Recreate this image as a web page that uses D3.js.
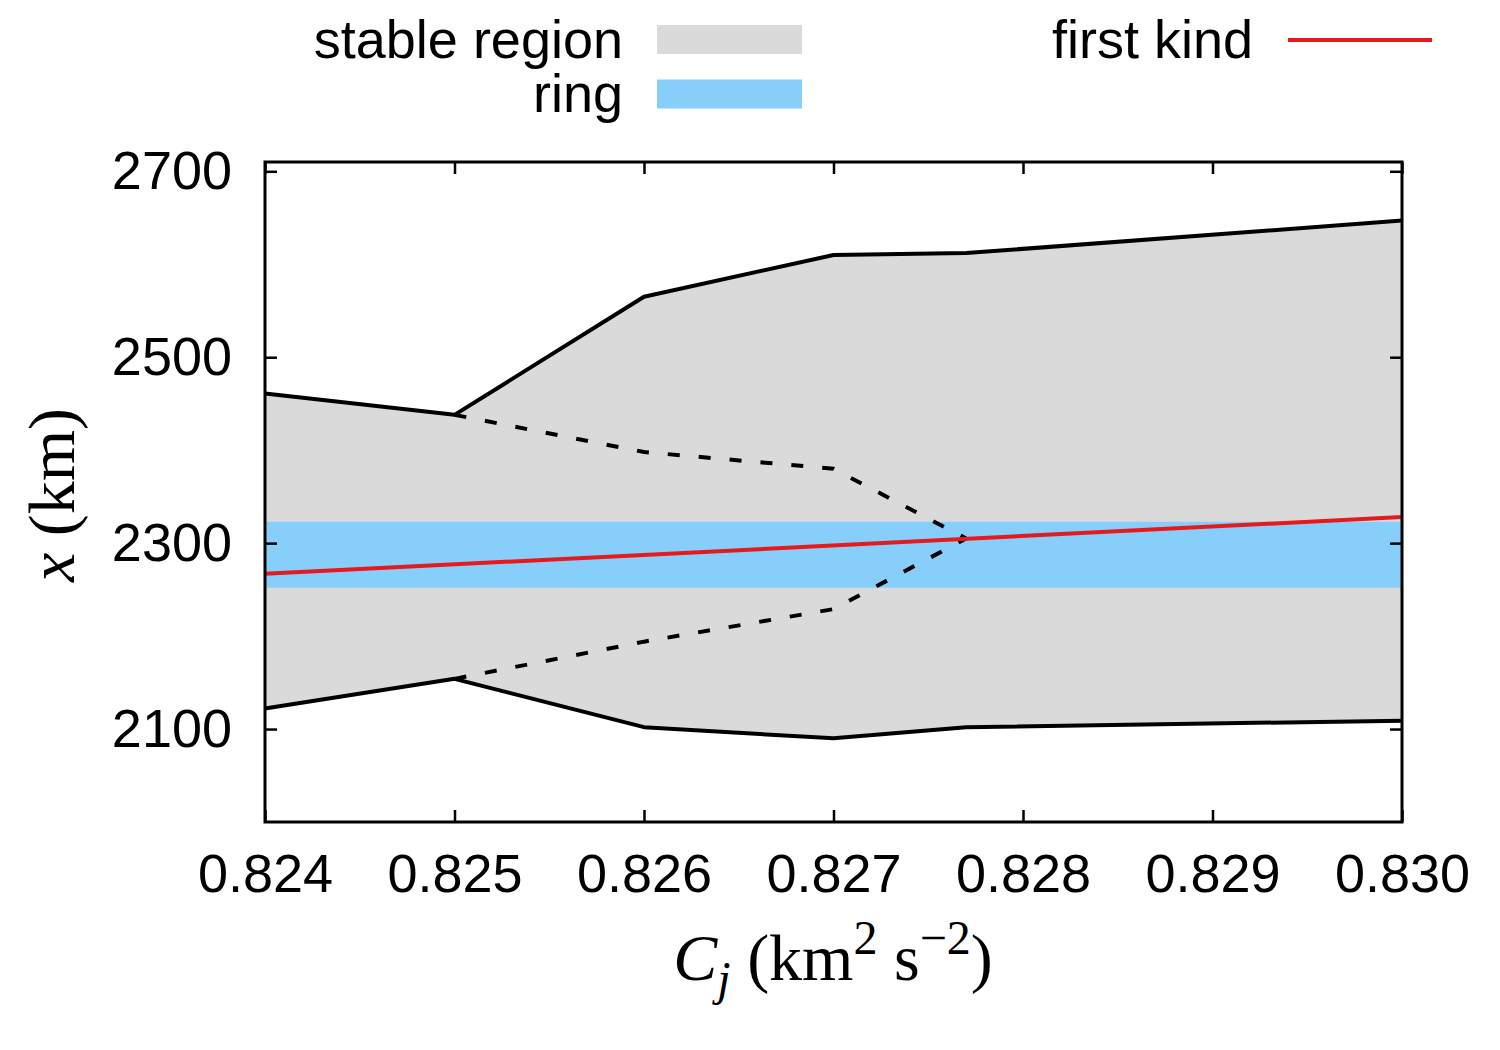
<!DOCTYPE html>
<html>
<head>
<meta charset="utf-8">
<script src="https://cdn.jsdelivr.net/npm/d3@7.9.0/dist/d3.min.js"></script>
<style>
  body { margin: 0; background: #fff; }
  text { font-family: "Liberation Sans", Arial, sans-serif; fill: #000; }
  .serif { font-family: "Liberation Serif", "DejaVu Serif", serif; }
</style>
</head>
<body>
<svg id="chart" width="1500" height="1050"></svg>
<script>
// ---- data ----
const cj = [0.824, 0.825, 0.826, 0.827, 0.8277, 0.830];
const upperSolid = [2461, 2438, 2565, 2610, 2612, 2647];
const lowerSolid = [2122, 2154, 2102, 2090, 2102, 2109];

const cjDash = [0.825, 0.826, 0.827, 0.8277];
const upperDash = [2438, 2398, 2380, 2305];
const lowerDash = [2154, 2194, 2229, 2305];

const cjFirst = [0.824, 0.830];
const firstKind = [2267, 2328];

const ring = [2252, 2323];

const xTicks = [0.824, 0.825, 0.826, 0.827, 0.828, 0.829, 0.830];
const yTicks = [2100, 2300, 2500, 2700];

// ---- layout ----
const mLeft = 265, mRight = 1402, mTop = 162, mBottom = 822;

const svg = d3.select("#chart");
const x = d3.scaleLinear().domain([0.824, 0.830]).range([mLeft, mRight]);
const y = d3.scaleLinear().domain([2000, 2710]).range([mBottom, mTop]);

let plot = svg.append("g");

// stable region (gray band between the solid boundaries)
let stable = cj.map((c, i) => ({ c: c, lo: lowerSolid[i], hi: upperSolid[i] }));
let area = d3.area().x((d) => x(d.c)).y0((d) => y(d.lo)).y1((d) => y(d.hi));
plot.append("path").attr("d", area(stable)).attr("fill", "#dadada");

// ring band
plot.append("rect")
  .attr("x", x(0.824))
  .attr("width", x(0.830) - x(0.824))
  .attr("y", y(ring[1]))
  .attr("height", y(ring[0]) - y(ring[1]))
  .attr("fill", "#87cefa");

// dashed inner boundaries
let line = d3.line().x((d) => x(d[0])).y((d) => y(d[1]));
[upperDash, lowerDash].forEach((vals) => {
  plot.append("path")
    .attr("d", line(cjDash.map((c, i) => [c, vals[i]])))
    .attr("fill", "none")
    .attr("stroke", "#000")
    .attr("stroke-width", 4)
    .attr("stroke-dasharray", "12,19");
});

// first kind
plot.append("path")
  .attr("d", line(cjFirst.map((c, i) => [c, firstKind[i]])))
  .attr("fill", "none")
  .attr("stroke", "#e41a1c")
  .attr("stroke-width", 4);

// solid boundaries
[upperSolid, lowerSolid].forEach((vals) => {
  plot.append("path")
    .attr("d", line(cj.map((c, i) => [c, vals[i]])))
    .attr("fill", "none")
    .attr("stroke", "#000")
    .attr("stroke-width", 4)
    .attr("stroke-linejoin", "round");
});

// ---- axes (gnuplot style: inner ticks, mirrored) ----
let xAxisB = d3.axisBottom(x).tickValues(xTicks).tickSize(-12).tickPadding(32).tickFormat(d3.format(".3f"));
let xAxisT = d3.axisTop(x).tickValues(xTicks).tickSize(-12).tickFormat("");
let yAxisL = d3.axisLeft(y).tickValues(yTicks).tickSize(-12).tickPadding(33).tickFormat(d3.format("d"));
let yAxisR = d3.axisRight(y).tickValues(yTicks).tickSize(-12).tickFormat("");

function styleAxis(g) {
  g.select(".domain").remove();
  g.selectAll(".tick line").attr("stroke", "#000").attr("stroke-width", 2.5);
  g.selectAll(".tick text").attr("font-size", 54).attr("font-family", "Liberation Sans, Arial, sans-serif");
}

svg.append("g").attr("transform", `translate(0,${mBottom})`).call(xAxisB).call(styleAxis);
svg.append("g").attr("transform", `translate(0,${mTop})`).call(xAxisT).call(styleAxis);
svg.append("g").attr("transform", `translate(${mLeft},0)`).call(yAxisL).call(styleAxis);
svg.append("g").attr("transform", `translate(${mRight},0)`).call(yAxisR).call(styleAxis);

// frame
svg.append("rect")
  .attr("x", mLeft).attr("y", mTop)
  .attr("width", mRight - mLeft).attr("height", mBottom - mTop)
  .attr("fill", "none").attr("stroke", "#000").attr("stroke-width", 3);

// ---- axis titles ----
let xt = svg.append("text").attr("class", "serif")
  .attr("x", 833).attr("y", 980)
  .attr("text-anchor", "middle")
  .attr("font-size", 66);
xt.append("tspan").attr("font-style", "italic").text("C");
xt.append("tspan").attr("font-style", "italic").attr("font-size", 48).attr("dy", 15).text("j");
xt.append("tspan").attr("dy", -15).text(" (km");
xt.append("tspan").attr("font-size", 48).attr("dy", -26).text("2");
xt.append("tspan").attr("dy", 26).text(" s");
xt.append("tspan").attr("font-size", 48).attr("dy", -26).text("\u22122");
xt.append("tspan").attr("dy", 26).text(")");

let yt = svg.append("text").attr("class", "serif")
  .attr("transform", "translate(74,495) rotate(-90)")
  .attr("text-anchor", "middle")
  .attr("font-size", 66);
yt.append("tspan").attr("font-style", "italic").text("x");
yt.append("tspan").text(" (km)");

// ---- legend ----
const legendLabels = ["stable region", "ring"];
const legendColors = ["#dadada", "#87cefa"];
const legendY = [39.5, 94];

legendLabels.forEach((lab, i) => {
  svg.append("text")
    .attr("x", 623).attr("y", legendY[i] + 18)
    .attr("text-anchor", "end")
    .attr("font-size", 54)
    .text(lab);
  svg.append("rect")
    .attr("x", 657).attr("y", legendY[i] - 14.5)
    .attr("width", 145).attr("height", 29)
    .attr("fill", legendColors[i]);
});

svg.append("text")
  .attr("x", 1253).attr("y", 39.5 + 18)
  .attr("text-anchor", "end")
  .attr("font-size", 54)
  .text("first kind");
svg.append("line")
  .attr("x1", 1288).attr("x2", 1432)
  .attr("y1", 40).attr("y2", 40)
  .attr("stroke", "#e41a1c").attr("stroke-width", 4);
</script>
</body>
</html>
